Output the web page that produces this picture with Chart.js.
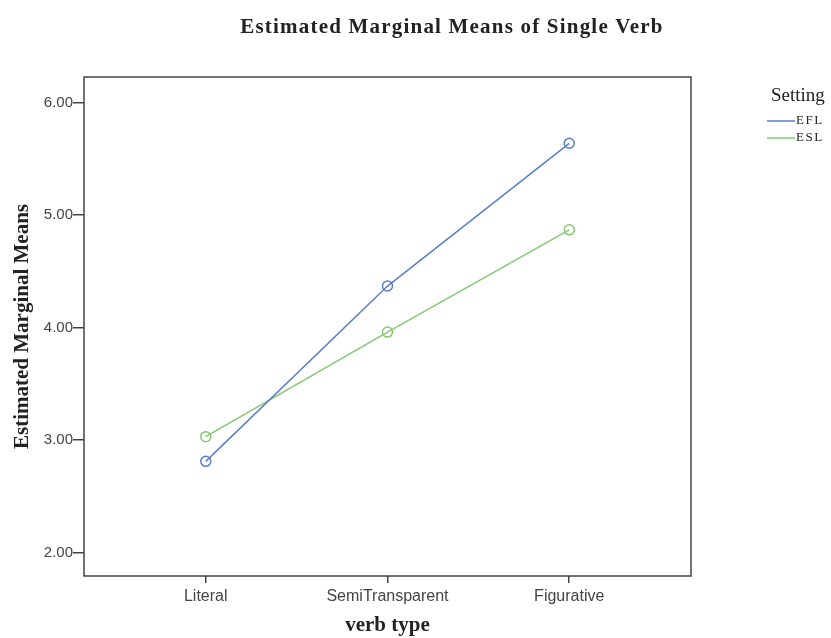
<!DOCTYPE html>
<html>
<head>
<meta charset="utf-8">
<title>Estimated Marginal Means of Single Verb</title>
<script src="https://cdn.jsdelivr.net/npm/chart.js@4/dist/chart.umd.min.js"></script>
<style>
  html, body { margin: 0; padding: 0; background: #fff; }
  #wrap { width: 831px; height: 638px; position: relative; }
</style>
</head>
<body>
<div id="wrap"><canvas id="emmChart"></canvas></div>
<script>
// verb types on the x axis, one mean per setting
const verbTypes = ['Literal', 'SemiTransparent', 'Figurative'];
const eflMeans = [2.81, 4.37, 5.64];
const eslMeans = [3.03, 3.96, 4.87];
const yTicks = [2, 3, 4, 5, 6];
const settingNames = ['EFL', 'ESL'];
const settingColors = ['#5a7ccb', '#86c875'];

const SERIF = '"Liberation Serif", "Times New Roman", serif';
const SANS = '"Liberation Sans", Arial, sans-serif';

function toPoints(values) {
  return values.map((v, i) => ({ x: i, y: v }));
}

// frame round the plot, title and the small legend on the right
const decorations = {
  id: 'decorations',
  afterDraw(chart) {
    const ctx = chart.ctx;
    const a = chart.chartArea;
    ctx.save();
    ctx.strokeStyle = '#444';
    ctx.lineWidth = 1.5;
    ctx.strokeRect(a.left, a.top, a.right - a.left, a.bottom - a.top);

    ctx.fillStyle = '#222';
    ctx.textAlign = 'center';
    ctx.textBaseline = 'alphabetic';
    ctx.letterSpacing = '1.2px';
    ctx.font = 'bold 21px ' + SERIF;
    ctx.fillText('Estimated Marginal Means of Single Verb', 452, 33);

    ctx.textAlign = 'left';
    ctx.textBaseline = 'middle';
    ctx.letterSpacing = '0px';
    ctx.font = '19px ' + SERIF;
    ctx.fillText('Setting', 771, 96);
    ctx.letterSpacing = '1.5px';
    ctx.font = '13px ' + SERIF;
    settingNames.forEach((name, i) => {
      const y = 121 + i * 17;
      ctx.strokeStyle = settingColors[i];
      ctx.lineWidth = 1.5;
      ctx.beginPath();
      ctx.moveTo(767, y);
      ctx.lineTo(795, y);
      ctx.stroke();
      ctx.fillText(name, 796, y);
    });
    ctx.letterSpacing = '0px';
    ctx.restore();
  }
};

const ctx = document.getElementById('emmChart').getContext('2d');
new Chart(ctx, {
  type: 'line',
  data: {
    datasets: [eflMeans, eslMeans].map((vals, i) => ({
      label: settingNames[i],
      data: toPoints(vals),
      borderColor: settingColors[i],
      backgroundColor: 'rgba(0,0,0,0)',
      borderWidth: 1.5,
      pointRadius: 5,
      pointBorderWidth: 1.5,
      pointBackgroundColor: 'rgba(0,0,0,0)',
      pointBorderColor: settingColors[i],
      tension: 0
    }))
  },
  options: {
    responsive: true,
    maintainAspectRatio: false,
    animation: false,
    layout: { padding: { top: 77, right: 140, left: 0, bottom: 0 } },
    plugins: {
      legend: { display: false },
      title: { display: false },
      tooltip: { enabled: false }
    },
    scales: {
      x: {
        type: 'linear',
        min: -0.67,
        max: 2.67,
        afterBuildTicks: s => { s.ticks = verbTypes.map((_, i) => ({ value: i })); },
        afterFit: s => { s.height = 62; },
        grid: { drawOnChartArea: false, drawTicks: true, tickLength: 7, color: '#444', lineWidth: 1.5 },
        border: { display: false },
        ticks: {
          color: '#444',
          font: { family: SANS, size: 16 },
          padding: 4,
          maxRotation: 0,
          callback: v => verbTypes[v]
        },
        title: {
          display: true,
          text: 'verb type',
          color: '#222',
          font: { family: SERIF, size: 21, weight: 'bold' },
          padding: { top: 0, bottom: 0 }
        }
      },
      y: {
        type: 'linear',
        min: 1.79,
        max: 6.23,
        afterBuildTicks: s => { s.ticks = yTicks.map(v => ({ value: v })); },
        afterFit: s => { s.width = 84; },
        grid: { drawOnChartArea: false, drawTicks: true, tickLength: 11, color: '#444', lineWidth: 1.5 },
        border: { display: false },
        ticks: {
          color: '#444',
          font: { family: SANS, size: 15 },
          padding: 0,
          callback: v => v.toFixed(2)
        },
        title: {
          display: true,
          text: 'Estimated Marginal Means',
          color: '#222',
          font: { family: SERIF, size: 21, weight: 'bold' },
          padding: { top: 10, bottom: 0 }
        }
      }
    }
  },
  plugins: [decorations]
});
</script>
</body>
</html>
